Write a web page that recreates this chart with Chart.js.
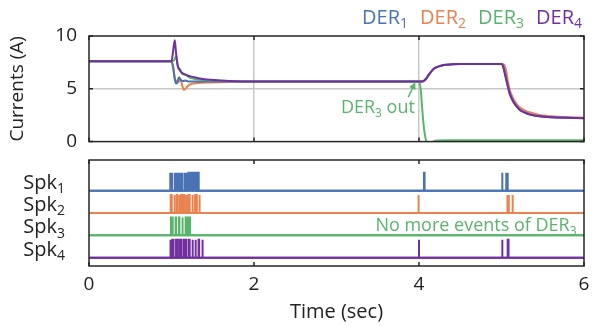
<!DOCTYPE html>
<html><head><meta charset="utf-8">
<script src="https://cdn.jsdelivr.net/npm/chart.js@4.4.1/dist/chart.umd.min.js"></script>
<style>
html,body{margin:0;padding:0;background:#fff;}
#wrap{position:relative;width:605px;height:326px;overflow:hidden;}
#c1{position:absolute;left:0;top:0;}
#c2{position:absolute;left:0;top:150px;}
</style></head><body>
<div id="wrap">
<canvas id="c1" width="605" height="165" style="width:605px;height:165px"></canvas>
<canvas id="c2" width="605" height="176" style="width:605px;height:176px"></canvas>
</div>
<script>
// ---------- data ----------
const seriesNames = ['DER', 'DER', 'DER', 'DER'];
const seriesSubs = ['1', '2', '3', '4'];
const seriesColors = ['#4a72b4', '#e8824e', '#5ab46c', '#7030a0'];
const xTickValues = [0, 2, 4, 6];
const currentTicks = [0, 5, 10];

// currents (A) vs time (s)
const t1 = [0, 1.0, 1.02, 1.04, 1.055, 1.07, 1.09, 1.115, 1.14, 1.17, 1.2, 1.3, 1.45, 1.7, 2.0, 3.0, 4.0, 4.05, 4.08, 4.12, 4.16, 4.2, 4.25, 4.3, 4.4, 4.5, 4.7, 5.0, 5.02, 5.05, 5.08, 5.1, 5.14, 5.18, 5.22, 5.28, 5.35, 5.45, 5.6, 5.8, 6.0];
const i1 = [7.6, 7.6, 7.0, 5.9, 5.5, 5.6, 6.1, 5.8, 5.75, 5.78, 5.7, 5.68, 5.68, 5.7, 5.7, 5.7, 5.7, 5.72, 5.9, 6.35, 6.75, 7.0, 7.15, 7.25, 7.32, 7.35, 7.35, 7.35, 7.12, 6.2, 5.2, 4.6, 3.9, 3.4, 3.05, 2.78, 2.58, 2.42, 2.31, 2.26, 2.22];
const t2 = [0, 1.0, 1.02, 1.04, 1.06, 1.08, 1.11, 1.13, 1.15, 1.19, 1.22, 1.31, 1.47, 1.7, 2.0, 3.0, 4.0, 4.05, 4.08, 4.12, 4.16, 4.2, 4.25, 4.3, 4.4, 4.5, 4.7, 5.0, 5.03, 5.06, 5.08, 5.1, 5.14, 5.18, 5.22, 5.28, 5.35, 5.45, 5.6, 5.8, 6.0];
const i2 = [7.6, 7.6, 7.07, 6.0, 5.7, 5.6, 5.9, 5.3, 4.9, 5.2, 5.4, 5.55, 5.6, 5.65, 5.7, 5.7, 5.7, 5.72, 5.9, 6.35, 6.75, 7.0, 7.15, 7.25, 7.32, 7.35, 7.35, 7.35, 7.3, 6.6, 5.6, 4.9, 4.1, 3.6, 3.25, 2.95, 2.75, 2.55, 2.4, 2.3, 2.26];
const t3 = [0, 1.0, 1.03, 1.06, 1.08, 1.1, 1.13, 1.17, 1.22, 1.3, 1.5, 2.0, 3.0, 4.0, 4.02, 4.04, 4.06, 4.08, 4.1, 4.13, 4.17, 4.22, 4.4, 6.0];
const i3 = [7.6, 7.6, 7.7, 8.1, 6.9, 6.9, 6.4, 6.35, 6.05, 5.9, 5.78, 5.7, 5.7, 5.7, 5.0, 3.0, 1.3, 0.3, -0.1, -0.15, 0.0, 0.1, 0.12, 0.12];
const t4 = [0, 1.0, 1.02, 1.04, 1.055, 1.07, 1.1, 1.14, 1.22, 1.31, 1.43, 1.7, 2.0, 3.0, 4.0, 4.05, 4.08, 4.12, 4.16, 4.2, 4.25, 4.3, 4.4, 4.5, 4.7, 5.0, 5.02, 5.05, 5.08, 5.1, 5.14, 5.18, 5.22, 5.28, 5.35, 5.45, 5.6, 5.8, 6.0];
const i4 = [7.6, 7.6, 8.6, 9.6, 8.4, 7.4, 6.76, 6.45, 6.2, 6.03, 5.87, 5.75, 5.7, 5.7, 5.7, 5.72, 5.9, 6.35, 6.75, 7.0, 7.15, 7.25, 7.32, 7.35, 7.35, 7.35, 7.1, 6.1, 5.1, 4.5, 3.8, 3.35, 3.0, 2.75, 2.55, 2.4, 2.3, 2.25, 2.2];

// spike events: [start, end] in seconds
const spk1 = [[0.985,0.985],[1.006,1.006],[1.039,1.039],[1.063,1.063],[1.087,1.087],[1.103,1.103],[1.119,1.119],[1.131,1.131],[1.16,1.16],[1.172,1.172],[1.188,1.188],[1.206,1.25],[1.262,1.295],[1.306,1.33],[4.06,4.068],[5.01,5.01],[5.058,5.058],[5.075,5.075]];
const spk2 = [[0.99,1.003],[1.035,1.04],[1.065,1.07],[1.093,1.098],[1.117,1.13],[1.15,1.155],[1.177,1.182],[1.205,1.22],[1.25,1.26],[1.286,1.307],[1.337,1.342],[3.995,3.995],[5.068,5.075],[5.086,5.09],[5.13,5.138]];
const spk3 = [[0.993,1.015],[1.05,1.056],[1.09,1.096],[1.131,1.136],[1.171,1.177],[1.199,1.225]];
const spk4 = [[0.985,0.99],[1.01,1.025],[1.055,1.07],[1.095,1.12],[1.148,1.178],[1.208,1.22],[1.25,1.26],[1.288,1.295],[1.328,1.335],[1.37,1.38],[4.0,4.0],[5.01,5.01],[5.075,5.085]];
const spikeLevels = [3, 2, 1, 0];   // Spk1..Spk4 baselines
const spikeLabelMain = 'Spk';
const spikeHeight = 0.8;

// annotations (data units)
const outNote = {main: 'DER', sub: '3', rest: ' out', x: 3.95, y: 3.35, arrowFrom: [3.87, 4.2], arrowTo: [3.955, 5.62]};
const noMoreNote = {main: 'No more events of DER', sub: '3', x: 5.91, y: 1.5};

// ---------- helpers ----------
const FONT = "'Open Sans', 'Noto Sans', sans-serif";
const TXT = '#222';
const AX = '#262626';
function subWidth(ctx, main, sub, rest, size) {
  ctx.font = size + 'px ' + FONT; let w = ctx.measureText(main).width;
  ctx.font = Math.round(size * 0.68) + 'px ' + FONT; w += ctx.measureText(sub).width;
  if (rest) { ctx.font = size + 'px ' + FONT; w += ctx.measureText(rest).width; }
  return w;
}
function drawSub(ctx, x, y, main, sub, rest, size, color, align) {
  const w = subWidth(ctx, main, sub, rest, size);
  if (align === 'right') x -= w;
  ctx.save(); ctx.fillStyle = color; ctx.textBaseline = 'alphabetic'; ctx.textAlign = 'left';
  ctx.font = size + 'px ' + FONT; ctx.fillText(main, x, y); x += ctx.measureText(main).width;
  ctx.font = Math.round(size * 0.68) + 'px ' + FONT; ctx.fillText(sub, x, y + size * 0.22); x += ctx.measureText(sub).width;
  if (rest) { ctx.font = size + 'px ' + FONT; ctx.fillText(rest, x, y); }
  ctx.restore();
}
function boxAndTicks(chart, yTickVals) {
  const ctx = chart.ctx, a = chart.chartArea, xs = chart.scales.x, ys = chart.scales.y;
  ctx.save(); ctx.strokeStyle = AX; ctx.lineWidth = 1.5;
  ctx.beginPath();
  xTickValues.forEach(v => { const px = xs.getPixelForValue(v); ctx.moveTo(px, a.top); ctx.lineTo(px, a.top + 4); ctx.moveTo(px, a.bottom); ctx.lineTo(px, a.bottom - 4); });
  (yTickVals || []).forEach(v => { const py = ys.getPixelForValue(v); ctx.moveTo(a.left, py); ctx.lineTo(a.left + 4, py); ctx.moveTo(a.right, py); ctx.lineTo(a.right - 4, py); });
  ctx.stroke();
  ctx.strokeRect(a.left, a.top, a.right - a.left, a.bottom - a.top);
  ctx.restore();
}
const pts = (ts, vs) => ts.map((t, k) => ({x: t, y: vs[k]}));
function spikePts(list, base) {
  const out = [{x: 0, y: base}];
  list.forEach(([s, e]) => { out.push({x: s, y: base}, {x: s, y: base + spikeHeight}, {x: e, y: base + spikeHeight}, {x: e, y: base}); });
  out.push({x: 6, y: base});
  return out;
}

// ---------- top chart ----------
const topPlugin = {
  id: 'topdeco',
  afterDatasetsDraw(chart) {
    const ctx = chart.ctx, xs = chart.scales.x, ys = chart.scales.y;
    boxAndTicks(chart, currentTicks);
    let x = chart.chartArea.right - 2;
    for (let k = 3; k >= 0; k--) {
      const w = subWidth(ctx, seriesNames[k], seriesSubs[k], '', 20);
      drawSub(ctx, x - w, 24, seriesNames[k], seriesSubs[k], '', 20, seriesColors[k], 'left');
      x -= w + 12;
    }
    const g = seriesColors[2];
    drawSub(ctx, xs.getPixelForValue(outNote.x), ys.getPixelForValue(outNote.y) + 7, outNote.main, outNote.sub, outNote.rest, 18, g, 'right');
    const x0 = xs.getPixelForValue(outNote.arrowFrom[0]), y0 = ys.getPixelForValue(outNote.arrowFrom[1]);
    const x1 = xs.getPixelForValue(outNote.arrowTo[0]), y1 = ys.getPixelForValue(outNote.arrowTo[1]);
    const ang = Math.atan2(y1 - y0, x1 - x0);
    ctx.save(); ctx.strokeStyle = g; ctx.fillStyle = g; ctx.lineWidth = 1.5;
    ctx.beginPath(); ctx.moveTo(x0, y0); ctx.lineTo(x1 - 4 * Math.cos(ang), y1 - 4 * Math.sin(ang)); ctx.stroke();
    ctx.beginPath(); ctx.moveTo(x1, y1);
    ctx.lineTo(x1 - 7 * Math.cos(ang) + 3.5 * Math.sin(ang), y1 - 7 * Math.sin(ang) - 3.5 * Math.cos(ang));
    ctx.lineTo(x1 - 7 * Math.cos(ang) - 3.5 * Math.sin(ang), y1 - 7 * Math.sin(ang) + 3.5 * Math.cos(ang));
    ctx.closePath(); ctx.fill(); ctx.restore();
  }
};
new Chart(document.getElementById('c1'), {
  type: 'line',
  data: {datasets: [
    {data: pts(t4, i4), borderColor: seriesColors[3]},
    {data: pts(t3, i3), borderColor: seriesColors[2]},
    {data: pts(t1, i1), borderColor: seriesColors[0]},
    {data: pts(t2, i2), borderColor: seriesColors[1]}
  ]},
  options: {
    responsive: false, animation: false, devicePixelRatio: 1,
    layout: {padding: {left: 0, right: 21, top: 36, bottom: 9}},
    plugins: {legend: {display: false}, tooltip: {enabled: false}},
    elements: {point: {radius: 0}, line: {borderWidth: 2, cubicInterpolationMode: 'monotone', fill: false}},
    scales: {
      x: {type: 'linear', min: 0, max: 6, afterBuildTicks: s => { s.ticks = xTickValues.map(v => ({value: v})); },
          ticks: {display: false}, border: {display: false},
          grid: {drawTicks: false, lineWidth: 1.5, color: c => (c.tick && (c.tick.value === 2 || c.tick.value === 4)) ? '#c8c8c8' : 'rgba(0,0,0,0)'},
          afterFit: s => { s.height = 0; }},
      y: {min: 0, max: 10, afterBuildTicks: s => { s.ticks = currentTicks.map(v => ({value: v})); },
          ticks: {padding: 12, color: TXT, font: {family: FONT, size: 19}},
          border: {display: false},
          grid: {drawTicks: false, lineWidth: 1.5, color: c => (c.tick && c.tick.value === 5) ? '#c8c8c8' : 'rgba(0,0,0,0)'},
          title: {display: true, text: 'Currents (A)', color: TXT, font: {family: FONT, size: 19}, padding: {top: 6, bottom: 0}},
          afterFit: s => { s.width = 89; }}
    }
  },
  plugins: [topPlugin]
});

// ---------- bottom chart ----------
const botPlugin = {
  id: 'botdeco',
  afterDatasetsDraw(chart) {
    const ctx = chart.ctx, xs = chart.scales.x, ys = chart.scales.y;
    boxAndTicks(chart, []);
    spikeLevels.forEach((lv, k) => {
      drawSub(ctx, 65, ys.getPixelForValue(lv + spikeHeight / 2) + 7, spikeLabelMain, String(k + 1), '', 20, TXT, 'right');
    });
    drawSub(ctx, xs.getPixelForValue(noMoreNote.x), ys.getPixelForValue(noMoreNote.y) + 7, noMoreNote.main, noMoreNote.sub, '', 18, seriesColors[2], 'right');
  }
};
const spikeLists = [spk1, spk2, spk3, spk4];
const spikeSets = spikeLists.map((lst, k) => ({
  data: spikePts(lst, spikeLevels[k]), borderColor: seriesColors[k], backgroundColor: seriesColors[k],
  borderWidth: 2, fill: {value: spikeLevels[k]}
}));
const baseSets = spikeLevels.map((lv, k) => ({
  data: [{x: 0, y: lv}, {x: 6, y: lv}], borderColor: seriesColors[k], borderWidth: 2, fill: false
}));
new Chart(document.getElementById('c2'), {
  type: 'line',
  data: {datasets: baseSets.concat(spikeSets)},
  options: {
    responsive: false, animation: false, devicePixelRatio: 1,
    layout: {padding: {left: 0, right: 21, top: 10, bottom: 0}},
    plugins: {legend: {display: false}, tooltip: {enabled: false}, filler: {propagate: false}},
    elements: {point: {radius: 0}, line: {tension: 0}},
    scales: {
      x: {type: 'linear', min: 0, max: 6, afterBuildTicks: s => { s.ticks = xTickValues.map(v => ({value: v})); },
          ticks: {padding: 7, color: TXT, font: {family: FONT, size: 19}, maxRotation: 0},
          border: {display: false}, grid: {display: false, drawTicks: false},
          title: {display: true, text: 'Time (sec)', color: TXT, font: {family: FONT, size: 20}, padding: {top: 0, bottom: 2}},
          afterFit: s => { s.height = 60; }},
      y: {min: -0.37, max: 4.37, ticks: {display: false}, border: {display: false}, grid: {display: false},
          afterFit: s => { s.width = 89; }}
    }
  },
  plugins: [botPlugin]
});
</script>
</body></html>
